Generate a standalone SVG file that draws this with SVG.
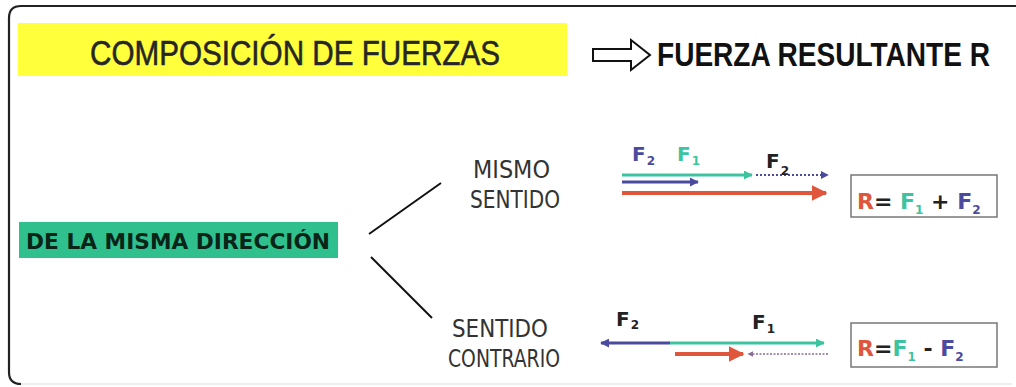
<svg xmlns="http://www.w3.org/2000/svg" width="1016" height="387" viewBox="0 0 1016 387">
<defs>
<style>
.title{font-family:"Liberation Sans",Arial,sans-serif;font-size:30px;fill:#262626;stroke:#262626;stroke-width:0.5;}
.res{font-family:"Liberation Sans",Arial,sans-serif;font-size:27px;font-weight:bold;fill:#111;}
.lbl{font-family:"DejaVu Sans",Verdana,sans-serif;font-size:24px;fill:#333;}
.dir{font-family:"DejaVu Sans",Verdana,sans-serif;font-size:22px;font-weight:bold;fill:#0b2418;}
.f{font-family:"DejaVu Sans",Verdana,sans-serif;font-size:20px;font-weight:bold;}
.sub{font-size:12px;}
.eq{font-family:"DejaVu Sans",Verdana,sans-serif;font-size:22px;font-weight:bold;fill:#222;}
.esub{font-size:12px;}
.teal{fill:#3cc4a0;}
.blue{fill:#4a4a9e;}
.red{fill:#e0563c;}
.blk{fill:#222;}
.box{fill:#fff;stroke:#777;stroke-width:1.5;}
</style>
<marker id="ht" viewBox="0 0 10 10" refX="9" refY="5" markerWidth="3" markerHeight="3" orient="auto-start-reverse"><path d="M0,0 L10,5 L0,10 z" fill="#3cc4a0"/></marker>
<marker id="hb" viewBox="0 0 10 10" refX="9" refY="5" markerWidth="3" markerHeight="3" orient="auto-start-reverse"><path d="M0,0 L10,5 L0,10 z" fill="#4a4a9e"/></marker>
<marker id="hbs" viewBox="0 0 10 10" refX="9" refY="5" markerWidth="4" markerHeight="4" orient="auto-start-reverse"><path d="M0,0 L10,5 L0,10 z" fill="#4a4a9e"/></marker>
<marker id="hr" viewBox="0 0 10 10" refX="9" refY="5" markerWidth="4" markerHeight="4" orient="auto-start-reverse"><path d="M0,0 L10,5 L0,10 z" fill="#e0563c"/></marker>
<marker id="hp" viewBox="0 0 10 10" refX="9" refY="5" markerWidth="4" markerHeight="4" orient="auto-start-reverse"><path d="M0,0 L10,5 L0,10 z" fill="#8a6a9a"/></marker>
</defs>
<rect width="1016" height="387" fill="#fff"/>
<g id="frame">
<path d="M1016,6 H21 Q9,6 9,18 V372 Q9,384 21,384" fill="none" stroke="#222" stroke-width="2.2"/>
<path d="M21,384 H1012" fill="none" stroke="#ddd" stroke-width="1"/>
</g>
<g id="title">
<rect x="18" y="23" width="549" height="53" fill="#ffff3c"/>
<text class="title" transform="translate(90,65) scale(1,1.18)" x="0" y="0" textLength="410" lengthAdjust="spacingAndGlyphs">COMPOSICIÓN DE FUERZAS</text>
</g>
<g id="hollow-arrow">
<polygon points="593,49 631,49 631,40 650,55 631,70 631,61 593,61" fill="#fff" stroke="#111" stroke-width="2"/>
</g>
<g id="resultante">
<text class="res" transform="translate(657,66) scale(1,1.2)" x="0" y="0" textLength="333" lengthAdjust="spacingAndGlyphs">FUERZA RESULTANTE R</text>
</g>
<g id="misma-direccion">
<rect x="19" y="222" width="319" height="36" fill="#2fc08e"/>
<text class="dir" x="26" y="249" textLength="304" lengthAdjust="spacingAndGlyphs">DE LA MISMA DIRECCIÓN</text>
</g>
<g id="mismo-sentido">
<text class="lbl" x="473" y="178" textLength="77" lengthAdjust="spacingAndGlyphs">MISMO</text>
<text class="lbl" x="470" y="208" textLength="90" lengthAdjust="spacingAndGlyphs">SENTIDO</text>
</g>
<g id="sentido-contrario">
<text class="lbl" x="452" y="337" textLength="96" lengthAdjust="spacingAndGlyphs">SENTIDO</text>
<text class="lbl" x="448" y="367" textLength="112" lengthAdjust="spacingAndGlyphs">CONTRARIO</text>
</g>
<g id="connectors" stroke="#111" stroke-width="2" fill="none">
<line x1="369" y1="234" x2="441" y2="183"/>
<line x1="371" y1="257" x2="432" y2="318"/>
</g>
<g id="vectors-same">
<line x1="622" y1="175" x2="752" y2="175" stroke="#3cc4a0" stroke-width="3" marker-end="url(#ht)"/>
<line x1="756" y1="175" x2="828" y2="175" stroke="#4a4a9e" stroke-width="2" stroke-dasharray="2,2" marker-end="url(#hbs)"/>
<line x1="622" y1="182" x2="698" y2="182" stroke="#4a4a9e" stroke-width="3" marker-end="url(#hb)"/>
<line x1="622" y1="193" x2="826" y2="193" stroke="#e0563c" stroke-width="4" marker-end="url(#hr)"/>
<text class="f blue" x="632" y="161">F<tspan class="sub" dx="1" dy="4">2</tspan></text>
<text class="f teal" x="677" y="161">F<tspan class="sub" dx="1" dy="4">1</tspan></text>
<text class="f blk" x="766" y="168">F<tspan class="sub" dx="1" dy="7">2</tspan></text>
</g>
<g id="vectors-opposite">
<line x1="670" y1="343" x2="601" y2="343" stroke="#4a4a9e" stroke-width="3" marker-end="url(#hb)"/>
<line x1="670" y1="343" x2="824" y2="343" stroke="#3cc4a0" stroke-width="3" marker-end="url(#ht)"/>
<line x1="675" y1="354" x2="743" y2="354" stroke="#e0563c" stroke-width="4" marker-end="url(#hr)"/>
<line x1="828" y1="354" x2="748" y2="354" stroke="#8a6a9a" stroke-width="1.5" stroke-dasharray="2,1.5" marker-end="url(#hp)"/>
<text class="f blk" x="616" y="326">F<tspan class="sub" dx="1" dy="3">2</tspan></text>
<text class="f blk" x="752" y="329">F<tspan class="sub" dx="1" dy="4">1</tspan></text>
</g>
<g id="eq-sum">
<rect class="box" x="851" y="175" width="146" height="42"/>
<text class="eq" x="857" y="209"><tspan class="red">R</tspan>= <tspan class="teal">F</tspan><tspan class="teal esub" dy="5">1</tspan><tspan dy="-5"> + </tspan><tspan class="blue">F</tspan><tspan class="blue esub" dy="5">2</tspan></text>
</g>
<g id="eq-diff">
<rect class="box" x="851" y="323" width="146" height="44"/>
<text class="eq" x="857" y="356"><tspan class="red">R</tspan>=<tspan class="teal">F</tspan><tspan class="teal esub" dy="5">1</tspan><tspan dy="-5"> - </tspan><tspan class="blue">F</tspan><tspan class="blue esub" dy="5">2</tspan></text>
</g>
</svg>
